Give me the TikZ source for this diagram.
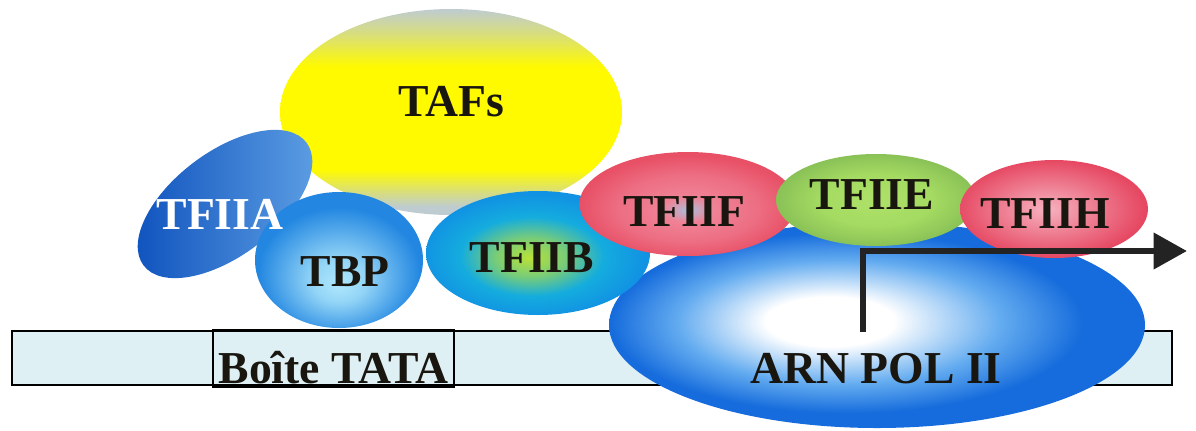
\documentclass[tikz,border=0pt]{standalone}
\usepackage{fontspec}
\setmainfont{Liberation Serif}
\usetikzlibrary{positioning,arrows.meta,shapes.geometric}

% colours of the complex
\definecolor{dnafill}{RGB}{222,240,244}
\definecolor{tafyellow}{RGB}{255,250,0}
\definecolor{tafgray}{RGB}{190,203,208}
\definecolor{iiadark}{RGB}{12,80,188}
\definecolor{iialight}{RGB}{95,160,228}
\definecolor{tbpblue}{RGB}{35,135,225}
\definecolor{tbplight}{RGB}{175,232,252}
\definecolor{iibcyan}{RGB}{20,172,222}
\definecolor{iibgreen}{RGB}{185,225,55}
\definecolor{ifred}{RGB}{232,80,102}
\definecolor{ifpink}{RGB}{240,130,150}
\definecolor{ifcore}{RGB}{170,190,218}
\definecolor{iegreen}{RGB}{140,205,80}
\definecolor{iecore}{RGB}{175,225,105}
\definecolor{ihred}{RGB}{230,72,98}
\definecolor{ihcore}{RGB}{246,178,192}
\definecolor{polblue}{RGB}{22,108,220}
\definecolor{polmid}{RGB}{100,172,240}
\definecolor{labelink}{RGB}{25,22,15}
\definecolor{arrowink}{RGB}{35,35,35}

% shadings
\pgfdeclareverticalshading{tafband}{100bp}{color(0bp)=(tafgray); color(27bp)=(tafgray); color(36bp)=(tafyellow); color(61bp)=(tafyellow); color(69bp)=(tafgray!60!tafyellow); color(75bp)=(tafgray); color(100bp)=(tafgray)}
\pgfdeclareradialshading{tbpglow}{\pgfpoint{0bp}{-9bp}}{color(0bp)=(tbplight); color(8bp)=(tbplight!80!tbpblue); color(24bp)=(tbpblue); color(50bp)=(tbpblue)}
\pgfdeclareradialshading{iibglow}{\pgfpoint{-2bp}{-2bp}}{color(0bp)=(iibgreen); color(8bp)=(iibgreen!60!iibcyan); color(16bp)=(iibcyan); color(25bp)=(iibcyan!85!blue); color(50bp)=(iibcyan!85!blue)}
\pgfdeclareradialshading{iifglow}{\pgfpoint{0bp}{-3bp}}{color(0bp)=(ifcore); color(6bp)=(ifpink); color(16bp)=(ifpink!60!ifred); color(25bp)=(ifred); color(50bp)=(ifred)}
\pgfdeclareradialshading{iieglow}{\pgfpoint{0bp}{0bp}}{color(0bp)=(iecore); color(14bp)=(iecore!70!iegreen); color(25bp)=(iegreen!85!gray); color(50bp)=(iegreen!85!gray)}
\pgfdeclareradialshading{iihglow}{\pgfpoint{-2bp}{0bp}}{color(0bp)=(ihcore); color(10bp)=(ihcore!60!ihred); color(25bp)=(ihred); color(50bp)=(ihred)}
\pgfdeclareradialshading{polglow}{\pgfpoint{-5bp}{1bp}}{color(0bp)=(white); color(6bp)=(white); color(15bp)=(polmid); color(22bp)=(polblue); color(50bp)=(polblue)}

\begin{document}
\begin{tikzpicture}[
    x=0.02cm, y=-0.02cm,
    esize/.style 2 args={minimum width=#1*0.02cm, minimum height=#2*0.02cm},
    blob/.style={ellipse, inner sep=0pt, shade},
    lbl/.style={font=\fontsize{26}{30}\selectfont\bfseries, text=labelink, inner sep=0pt},
  ]
    \useasboundingbox (0,0) rectangle (1196,430);

    % DNA and promoter
    \node[draw=black, line width=1pt, fill=dnafill, inner sep=0pt, esize={1160}{54}] (dna) at (592,358) {};
    \node[draw=black, line width=1.3pt, inner sep=0pt, esize={241}{57}] (tata) at (333.5,358.5) {};
    \node[lbl, anchor=base] (tata-t) at ([shift={(0,25)}]tata.center) {Boîte TATA};

    % polymerase under the factors
    \node[blob, shading=polglow, esize={536}{206}] (polii) at (877,325) {};

    % general transcription factors
    \node[blob, shading=tafband, esize={342}{206}] (tafs) at (451,112) {};
    \node[blob, left color=iiadark, right color=iialight, rotate=37, esize={204}{104}] (tfiia) at (225,204) {};
    \node[blob, shading=tbpglow, esize={168}{136}] (tbp) at (339,260) {};
    \node[blob, shading=iibglow, esize={224}{124}] (tfiib) at (538,253) {};
    \node[blob, shading=iifglow, esize={217}{104}] (tfiif) at (688,204) {};
    \node[blob, shading=iieglow, esize={200}{92}] (tfiie) at (876,200) {};
    \node[blob, shading=iihglow, esize={188}{98}] (tfiih) at (1054,209) {};

    \node[lbl] (tafs-t) at ([shift={(0,-10)}]tafs.center) {TAFs};
    \node[lbl] (tbp-t) at ([shift={(6,12)}]tbp.center) {TBP};
    \node[lbl, text=white] (tfiia-t) at ([shift={(-5,10)}]tfiia.center) {TFIIA};
    \node[lbl] (tfiib-t) at ([shift={(-6,5)}]tfiib.center) {TFIIB};
    \node[lbl] (tfiif-t) at ([shift={(-4,8)}]tfiif.center) {TFIIF};
    \node[lbl] (tfiie-t) at ([shift={(-4,-5)}]tfiie.center) {TFIIE};
    \node[lbl] (tfiih-t) at ([shift={(-9,5)}]tfiih.center) {TFIIH};
    \node[lbl] (polii-t) at ([shift={(-1,44)}]polii.center) {ARN POL II};

    % start site and direction of transcription
    \coordinate (tss) at ([shift={(-14,7)}]polii.center);
    \coordinate (runoff) at (1187,251);
    \draw[line width=3.8pt, draw=arrowink, -{Triangle[length=19pt, width=20pt]}] (tss) |- (runoff);
\end{tikzpicture}
\end{document}
